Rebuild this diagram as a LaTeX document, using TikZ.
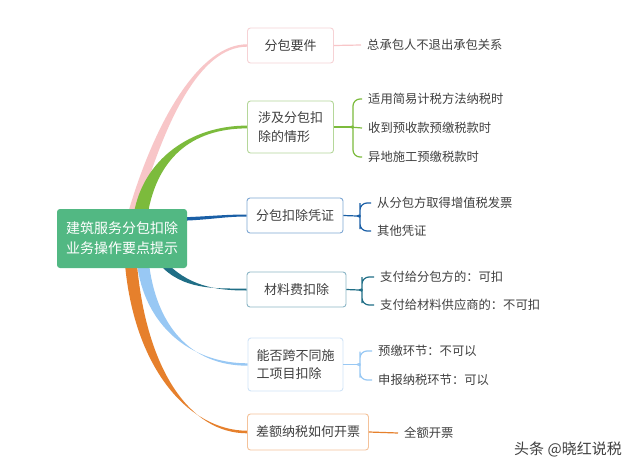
\documentclass[tikz,border=0pt]{standalone}
\usepackage{fontspec}
\newfontfamily\cjk{Noto Sans CJK SC}
\usetikzlibrary{calc}
\pgfdeclarelayer{bgzero}
\pgfdeclarelayer{background}
\pgfsetlayers{bgzero,background,main}
\definecolor{rootc}{HTML}{52B883}
\definecolor{pinkc}{HTML}{F8C6C8}
\definecolor{pinkb}{HTML}{F6D2D5}
\definecolor{greenc}{HTML}{7CBB3C}
\definecolor{greenb}{HTML}{B5D79A}
\definecolor{bluec}{HTML}{1A5FA6}
\definecolor{blueb}{HTML}{7FA8D4}
\definecolor{tealc}{HTML}{1F6E86}
\definecolor{tealb}{HTML}{8CB6C6}
\definecolor{lbluec}{HTML}{98C8F4}
\definecolor{lblueb}{HTML}{CFE3F7}
\definecolor{orangec}{HTML}{E6802C}
\definecolor{orangeb}{HTML}{F4C29A}
\definecolor{txt}{HTML}{404040}
\newcommand\brtaper[7]{\fill[#1] ($#2+#3$) .. controls ($#4+#3$) and ($#5+(0,#7)$) .. ($#6+(0,#7)$) -- ($#6-(0,#7)$) .. controls ($#5-(0,#7)$) and ($#4-#3$) .. ($#2-#3$) -- cycle;}
\newcommand\brarm[4]{\draw[bracel=#1] (#2) .. controls ($(#2)+(3,0)$) and ($(#2)+(3,#4)$) .. ($(#2)+(3,2*#4)$) |- (#3.west);}
\begin{document}
\begin{tikzpicture}[x=1pt,y=-1pt,
  rootbox/.style={fill=rootc, rounded corners=3pt, minimum width=130pt, minimum height=59pt, inner sep=0pt, text=white, align=center, font=\cjk\fontsize{14pt}{20pt}\selectfont},
  topic/.style={draw=#1, fill=white, line width=0.9pt, rounded corners=3pt, inner sep=0pt, text=txt, align=left, font=\cjk\fontsize{13pt}{18.5pt}\selectfont},
  leaf/.style={anchor=west, inner xsep=6pt, inner ysep=1pt, text=txt, font=\cjk\fontsize{12.3pt}{15pt}\selectfont},
  thin/.style={draw=#1, line width=1.2pt},
  bracel/.style={draw=#1, line width=1.2pt, rounded corners=7pt}
]
\begin{pgfonlayer}{bgzero}
\fill[white] (0,0) rectangle (640,472);
\end{pgfonlayer}
\useasboundingbox (0,0) rectangle (640,472);

% root
\node[rootbox] (root) at (122,238.5) {建筑服务分包扣除\\业务操作要点提示};

% topic boxes
\node[topic=pinkb, minimum width=86pt, minimum height=35pt] (b1) at (290.5,45.5) {分包要件};
\node[topic=greenb, minimum width=86pt, minimum height=52pt] (b2) at (290.5,127) {涉及分包扣\\除的情形};
\node[topic=blueb, minimum width=96pt, minimum height=35pt] (b3) at (295,215.5) {分包扣除凭证};
\node[topic=tealb, minimum width=99pt, minimum height=35pt] (b4) at (296.5,289.5) {材料费扣除};
\node[topic=lblueb, minimum width=95pt, minimum height=53pt] (b5) at (295.5,364.5) {能否跨不同施\\工项目扣除};
\node[topic=orangeb, minimum width=121pt, minimum height=36pt] (b6) at (308,432) {差额纳税如何开票};

% leaves
\node[leaf] (l1) at (361,45) {总承包人不退出承包关系};
\node[leaf] (l21) at (362,99) {适用简易计税方法纳税时};
\node[leaf] (l22) at (362,128) {收到预收款预缴税款时};
\node[leaf] (l23) at (362,157) {异地施工预缴税款时};
\node[leaf] (l31) at (371,203) {从分包方取得增值税发票};
\node[leaf] (l32) at (371,231) {其他凭证};
\node[leaf] (l41) at (374,277) {支付给分包方的：可扣};
\node[leaf] (l42) at (374,305) {支付给材料供应商的：不可扣};
\node[leaf] (l51) at (372,351) {预缴环节：不可以};
\node[leaf] (l52) at (372,380) {申报纳税环节：可以};
\node[leaf] (l6) at (398,433) {全额开票};

% watermark
\node[text=black!75, font=\cjk\fontsize{15pt}{18pt}\selectfont, inner sep=0pt] (wm) at (568,449) {头条 @晓红说税};

% branch start points
\coordinate (r1) at ($(root.north west)+(76,5)$);
\coordinate (r2) at ($(root.north west)+(84,5)$);
\coordinate (r3) at ($(root.east)+(-4,-19.5)$);
\coordinate (r4) at ($(root.south west)+(105,-6)$);
\coordinate (r5) at ($(root.south west)+(86,-6)$);
\coordinate (r6) at ($(root.south west)+(74,-6)$);

\begin{pgfonlayer}{background}
\brtaper{pinkc}{(r1)}{(5,0)}{(160,120)}{(200,45.5)}{(b1.west)}{1.2}
\brtaper{greenc}{(r2)}{(7,0)}{(150,160)}{(190,127)}{(b2.west)}{1.4}
\brtaper{bluec}{(r3)}{(0,1.7)}{(210,218)}{(225,215.5)}{(b3.west)}{1}
\brtaper{tealc}{(r4)}{(2.3,-2.2)}{(185,288)}{(215,289.5)}{(b4.west)}{1}
\brtaper{orangec}{(r6)}{(6,0)}{(140,370)}{(190,432)}{(b6.west)}{1.3}
\brtaper{lbluec}{(r5)}{(6,0)}{(150,325)}{(190,364.5)}{(b5.west)}{1.2}
\end{pgfonlayer}

% small connectors
\coordinate (j2) at (350,127);
\coordinate (j3) at (357,216);
\coordinate (j4) at (359,290);
\coordinate (j5) at (357,364.5);

\draw[thin=pinkc] (b1.east) -- (l1.west);
\draw[thin=greenc] (b2.east) -- (j2);
\brarm{greenc}{j2}{l21}{-3}
\brarm{greenc}{j2}{l23}{3}
\draw[thin=greenc] (j2) -- (l22.west);
\draw[thin=bluec] (b3.east) -- (j3);
\brarm{bluec}{j3}{l31}{-3}
\brarm{bluec}{j3}{l32}{3}
\draw[thin=tealc] (b4.east) -- (j4);
\brarm{tealc}{j4}{l41}{-3}
\brarm{tealc}{j4}{l42}{3}
\draw[thin=lbluec] (b5.east) -- (j5);
\brarm{lbluec}{j5}{l51}{-3}
\brarm{lbluec}{j5}{l52}{3}
\draw[thin=orangec] (b6.east) -- (l6.west);
\end{tikzpicture}
\end{document}
